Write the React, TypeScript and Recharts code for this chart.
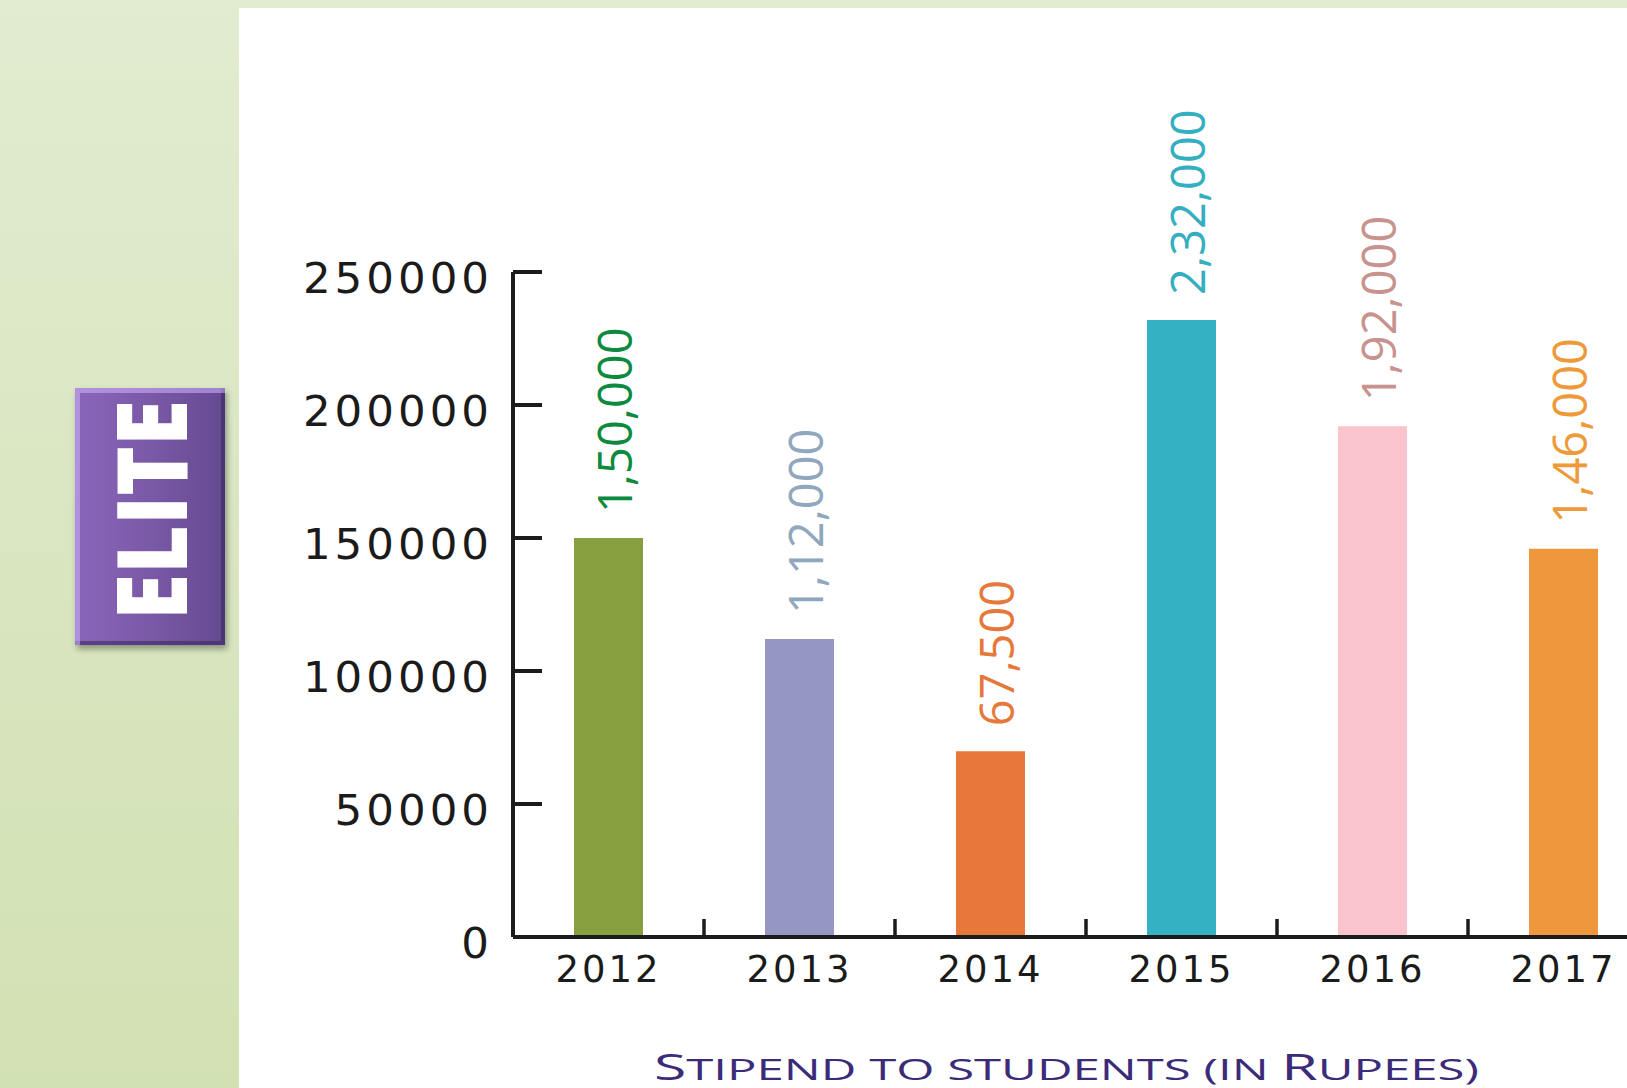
import React from 'react';
import { BarChart, Bar, XAxis, YAxis, Cell, LabelList } from 'recharts';

const years = ['2012', '2013', '2014', '2015', '2016', '2017'];
const stipendValues = [150000, 112000, 69800, 232000, 192000, 146000];
const valueLabels = ['1,50,000', '1,12,000', '67,500', '2,32,000', '1,92,000', '1,46,000'];
const barColors = ['#86a03f', '#9597c2', '#e8783a', '#34b2c4', '#f9c4ce', '#ef973d'];
const labelColors = ['#0c8a3d', '#90a7bd', '#e6783a', '#34afc1', '#c8938f', '#ee9a3b'];
const yTicks = [0, 50000, 100000, 150000, 200000, 250000];
const titleText = 'Stipend to students (in Rupees)';
const badgeText = 'ELITE';

const data = years.map((year, i) => ({ year, value: stipendValues[i], label: valueLabels[i] }));

const AXIS_COLOR = '#1b1b1b';
const TICK_FONT = "'DejaVu Sans', sans-serif";

const BarValueLabel = (props: any) => {
  const { x, y, width, value, index } = props;
  const i = typeof index === 'number' ? index : valueLabels.indexOf(value);
  const px = Number(x) + Number(width) / 2 + 23;
  const py = Number(y) - 25;
  return (
    <text
      transform={`translate(${px},${py}) rotate(-90)`}
      fill={labelColors[i]}
      fontSize={47}
      fontFamily="'Open Sans', sans-serif"
      textAnchor="start"
    >
      {value}
    </text>
  );
};

const XTick = (props: any) => {
  const { x, y, payload } = props;
  const half = payload && typeof payload.offset === 'number' && payload.offset > 0 ? payload.offset : 95.5;
  const bx = Number(x) + half;
  return (
    <g>
      <line x1={bx} x2={bx} y1={Number(y)} y2={Number(y) - 18} stroke={AXIS_COLOR} strokeWidth={3.5} />
      <text
        x={Number(x)}
        y={Number(y) + 45}
        textAnchor="middle"
        fontSize={37}
        letterSpacing={3}
        fontFamily={TICK_FONT}
        fill={AXIS_COLOR}
      >
        {payload.value}
      </text>
    </g>
  );
};

const YTick = (props: any) => {
  const { x, y, payload } = props;
  const ax = Number(x);
  const ay = Number(y);
  return (
    <g>
      <line x1={ax} x2={ax + 29} y1={ay} y2={ay} stroke={AXIS_COLOR} strokeWidth={4} />
      <text
        x={ax - 20}
        y={ay + 21}
        textAnchor="end"
        fontSize={43.5}
        letterSpacing={4}
        fontFamily={TICK_FONT}
        fill={AXIS_COLOR}
      >
        {payload.value}
      </text>
    </g>
  );
};

export default function App() {
  const firstBig = titleText.charAt(0).toUpperCase();
  const idxR = titleText.indexOf('Rupees');
  const partA = titleText.slice(1, idxR).toUpperCase();
  const partB = titleText.charAt(idxR).toUpperCase();
  const partC = titleText.slice(idxR + 1).toUpperCase();

  return (
    <div
      style={{
        position: 'absolute',
        left: 0,
        top: 0,
        width: 1627,
        height: 1088,
        overflow: 'hidden',
        background: 'linear-gradient(180deg, #e2ecd0 0%, #d9e6c1 50%, #d2e1b3 100%)',
      }}
    >
      <div
        style={{
          position: 'absolute',
          left: 239,
          top: 8,
          width: 1400,
          height: 1090,
          background: '#ffffff',
        }}
      />
      <div
        style={{
          position: 'absolute',
          left: 75,
          top: 388,
          width: 150,
          height: 257,
          background: 'linear-gradient(90deg, #8a66ba 0%, #7c5aa9 45%, #654a90 100%)',
          boxShadow:
            'inset 5px 5px 0 rgba(210,180,255,0.55), inset -4px -4px 0 rgba(60,40,100,0.6), 2px 4px 6px rgba(0,0,0,0.35)',
        }}
      >
        <svg width={150} height={257} style={{ position: 'absolute', left: 0, top: 0 }}>
          <text
            transform="translate(112,232) rotate(-90)"
            fill="#ffffff"
            fontSize={97}
            fontWeight={800}
            fontFamily="'Open Sans', sans-serif"
            textLength={220}
            lengthAdjust="spacingAndGlyphs"
          >
            {badgeText}
          </text>
        </svg>
      </div>
      <div style={{ position: 'absolute', left: 0, top: 0 }}>
        <BarChart
          width={1669}
          height={1088}
          data={data}
          margin={{ top: 272, right: 10, bottom: 91, left: 313 }}
        >
          <XAxis
            dataKey="year"
            height={60}
            axisLine={{ stroke: AXIS_COLOR, strokeWidth: 4 }}
            tickLine={false}
            tickSize={0}
            tickMargin={0}
            interval={0}
            tick={<XTick />}
          />
          <YAxis
            width={200}
            domain={[0, 250000]}
            ticks={yTicks}
            interval={0}
            axisLine={{ stroke: AXIS_COLOR, strokeWidth: 4 }}
            tickLine={false}
            tickSize={0}
            tickMargin={0}
            tick={<YTick />}
          />
          <Bar dataKey="value" barSize={69} isAnimationActive={false}>
            {data.map((d, i) => (
              <Cell key={d.year} fill={barColors[i]} />
            ))}
            <LabelList dataKey="label" content={<BarValueLabel />} />
          </Bar>
        </BarChart>
      </div>
      <svg width={1627} height={1088} style={{ position: 'absolute', left: 0, top: 0, pointerEvents: 'none' }}>
        <text
          x={654}
          y={1080}
          fill="#3b2b78"
          fontFamily="'Open Sans', sans-serif"
          fontWeight={500}
          textLength={825}
          lengthAdjust="spacingAndGlyphs"
        >
          <tspan fontSize={36}>{firstBig}</tspan>
          <tspan fontSize={30}>{partA}</tspan>
          <tspan fontSize={36}>{partB}</tspan>
          <tspan fontSize={30}>{partC}</tspan>
        </text>
      </svg>
    </div>
  );
}
